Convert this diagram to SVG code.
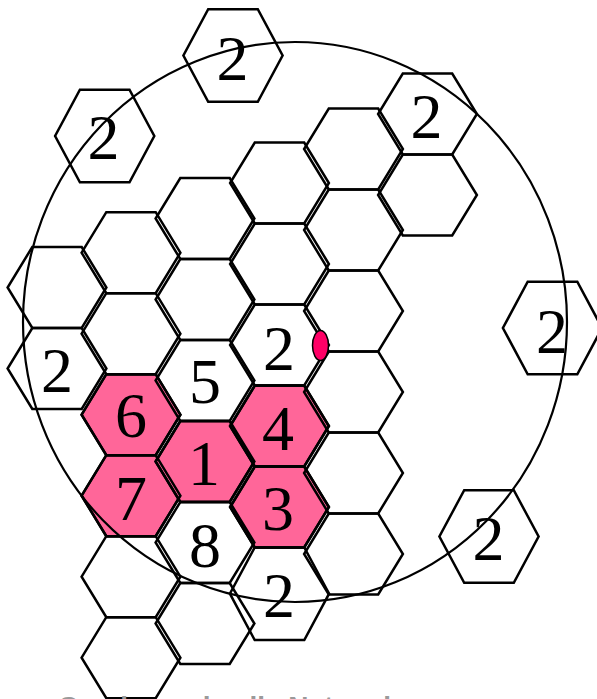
<svg xmlns="http://www.w3.org/2000/svg" xmlns:xlink="http://www.w3.org/1999/xlink" width="597" height="699" viewBox="0 0 597 699">
<defs>
<polygon id="hx" points="-24.7,-40.5 24.7,-40.5 49.4,0 24.7,40.5 -24.7,40.5 -49.4,0"/>
<polygon id="hxt" points="-24.8,-46.3 24.8,-46.3 49.6,0 24.8,46.3 -24.8,46.3 -49.6,0"/>
<style>
.c{fill:none;stroke:#000;stroke-width:2.5;stroke-linejoin:miter}
.p{fill:#FF6699;stroke:#000;stroke-width:2.5}
.t{font-family:"Liberation Serif","Times New Roman",serif;font-size:64px;fill:#000;text-anchor:middle}
.cap{font-family:"Liberation Sans",Arial,sans-serif;font-size:28px;font-weight:bold;fill:#9a9a9a}
</style>
</defs>
<rect width="597" height="699" fill="#fff"/>

<g id="pinkfills">
<use xlink:href="#hx" href="#hx" x="131" y="414.7" class="p"/>
<use xlink:href="#hx" href="#hx" x="131" y="495.7" class="p"/>
<use xlink:href="#hx" href="#hx" x="205" y="461.5" class="p"/>
<use xlink:href="#hx" href="#hx" x="279.5" y="426" class="p"/>
<use xlink:href="#hx" href="#hx" x="279.5" y="507" class="p"/>
</g>

<g id="grid">
<g id="a1"><use href="#hx" x="57" y="287.5" class="c"/></g>
<g id="a2"><use href="#hx" x="57" y="368.5" class="c"/><text class="t" x="57" y="392">2</text></g>
<g id="b1"><use href="#hx" x="131" y="252.7" class="c"/></g>
<g id="b2"><use href="#hx" x="131" y="333.7" class="c"/></g>
<g id="b3"><use href="#hx" x="131" y="414.7" class="c"/><text class="t" x="131" y="437">6</text></g>
<g id="b4"><use href="#hx" x="131" y="495.7" class="c"/><text class="t" x="131" y="520">7</text></g>
<g id="b5"><use href="#hx" x="131" y="576.7" class="c"/></g>
<g id="b6"><use href="#hx" x="131" y="657.7" class="c"/></g>
<g id="c1"><use href="#hx" x="205" y="218.5" class="c"/></g>
<g id="c2"><use href="#hx" x="205" y="299.5" class="c"/></g>
<g id="c3"><use href="#hx" x="205" y="380.5" class="c"/><text class="t" x="205" y="403">5</text></g>
<g id="c4"><use href="#hx" x="205" y="461.5" class="c"/><text class="t" x="204" y="485">1</text></g>
<g id="c5"><use href="#hx" x="205" y="542.5" class="c"/><text class="t" x="205" y="567">8</text></g>
<g id="c6"><use href="#hx" x="205" y="623.5" class="c"/></g>
<g id="d1"><use href="#hx" x="279.5" y="183" class="c"/></g>
<g id="d2"><use href="#hx" x="279.5" y="264" class="c"/></g>
<g id="d3"><use href="#hx" x="279.5" y="345" class="c"/><text class="t" x="279" y="370">2</text></g>
<g id="d4"><use href="#hx" x="279.5" y="426" class="c"/><text class="t" x="278" y="450">4</text></g>
<g id="d5"><use href="#hx" x="279.5" y="507" class="c"/><text class="t" x="278" y="530">3</text></g>
<g id="e1"><use href="#hx" x="353.5" y="149" class="c"/></g>
<g id="e2"><use href="#hx" x="353.5" y="230" class="c"/></g>
<g id="e3"><use href="#hx" x="353.5" y="311" class="c"/></g>
<g id="e4"><use href="#hx" x="353.5" y="392" class="c"/></g>
<g id="e5"><use href="#hx" x="353.5" y="473" class="c"/></g>
<g id="e6"><use href="#hx" x="353.5" y="554" class="c"/></g>
<g id="f1"><use href="#hx" x="427.5" y="114" class="c"/><text class="t" x="426.5" y="138">2</text></g>
<g id="f2"><use href="#hx" x="427.5" y="195" class="c"/></g>
</g>

<g id="cochannel">
<g id="co-top"><use href="#hxt" x="233" y="55.5" class="c"/><text class="t" x="232.5" y="80">2</text></g>
<g id="co-topleft"><use href="#hxt" x="104.7" y="136" class="c"/><text class="t" x="103.5" y="159">2</text></g>
<g id="co-right"><use href="#hxt" x="552.5" y="328" class="c"/><text class="t" x="552" y="353">2</text></g>
<g id="co-bottomright"><use href="#hxt" x="489" y="536.5" class="c"/><text class="t" x="488.5" y="560">2</text></g>
<g id="co-bottom"><use href="#hxt" x="279.5" y="593.7" class="c"/><text class="t" x="279" y="617">2</text></g>
</g>

<g id="connectors">
<ellipse cx="295" cy="322" rx="272" ry="280" fill="none" stroke="#000" stroke-width="2.2"/>
</g>

<g id="mobile">
<ellipse cx="320.5" cy="345.5" rx="8" ry="15" fill="#FF0066" stroke="#000" stroke-width="1.5"/>
</g>

<text class="cap" x="58" y="716">Co-channel cells   Network ...</text>
</svg>
